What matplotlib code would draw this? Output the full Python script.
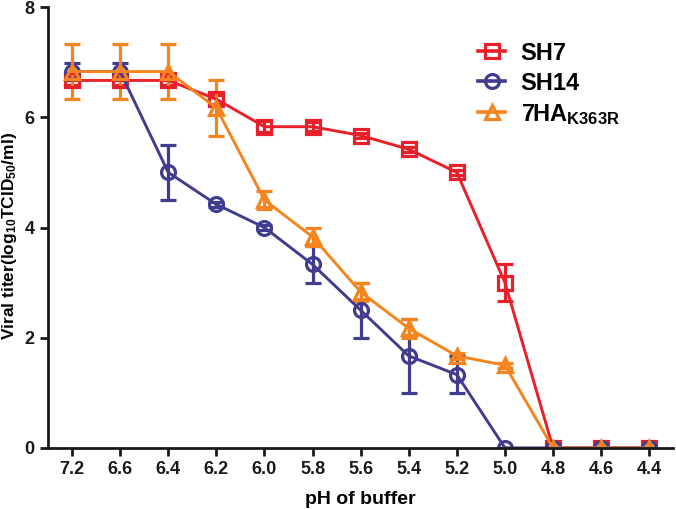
import numpy as np
import matplotlib.pyplot as plt
from matplotlib.lines import Line2D

plt.rcParams['font.family'] = ['Liberation Sans', 'DejaVu Sans']
plt.rcParams['font.weight'] = 'bold'
plt.rcParams['mathtext.fontset'] = 'custom'
plt.rcParams['mathtext.rm'] = 'Liberation Sans:bold'
plt.rcParams['mathtext.bf'] = 'Liberation Sans:bold'
plt.rcParams['mathtext.it'] = 'Liberation Sans:bold'

ph = ["7.2", "6.6", "6.4", "6.2", "6.0", "5.8", "5.6", "5.4", "5.2", "5.0", "4.8", "4.6", "4.4"]

sh7 = [6.67, 6.67, 6.67, 6.33, 5.83, 5.83, 5.67, 5.42, 5.0, 3.0, 0, 0, 0]
sh7_err = [0.08, 0.08, 0.08, 0.08, 0.1, 0.08, 0.05, 0.05, 0.05, 0.33, 0, 0, 0]

sh14 = [6.83, 6.83, 5.0, 4.42, 4.0, 3.33, 2.5, 1.67, 1.33, 0, 0, 0, 0]
sh14_err = [0.15, 0.15, 0.5, 0.05, 0.05, 0.33, 0.5, 0.67, 0.33, 0, 0, 0, 0]

ha = [6.83, 6.83, 6.83, 6.17, 4.5, 3.83, 2.83, 2.17, 1.67, 1.5, 0, 0, 0]
ha_err = [0.5, 0.5, 0.5, 0.5, 0.17, 0.17, 0.17, 0.17, 0.05, 0.05, 0, 0, 0]

x = np.arange(len(ph))

fig = plt.figure(figsize=(6.76, 5.09), dpi=100)
ax = fig.add_axes([0.071, 0.12, 0.925, 0.866])

series = [
    (sh7, sh7_err, "#E8202A", "s", "SH7"),
    (sh14, sh14_err, "#403C8E", "o", "SH14"),
    (ha, ha_err, "#F5841F", "^", r"7HA$_{\mathrm{K363R}}$"),
]
handles = []
for y, err, col, mk, lab in series:
    ax.errorbar(x, y, yerr=err, color=col, marker=mk, markersize=10,
                markerfacecolor="none", markeredgewidth=2.3, linewidth=2.1,
                capsize=5.5, capthick=2.3, elinewidth=2.3)
    handles.append(Line2D([], [], color=col, marker=mk, markersize=10,
                          markerfacecolor="none", markeredgewidth=2.3,
                          linewidth=2.6, label=lab))

ax.set_xlim(-0.5, 12.5)
ax.set_ylim(0, 8)
ax.set_xticks(x)
ax.set_xticklabels(ph)
ax.set_yticks([0, 2, 4, 6, 8])
ax.spines['top'].set_visible(False)
ax.spines['right'].set_visible(False)
for s in ['left', 'bottom']:
    ax.spines[s].set_linewidth(2)
    ax.spines[s].set_color("#1a1a1a")
ax.tick_params(width=2, length=6, labelsize=13, colors="#1a1a1a")
ax.set_xlabel("pH of buffer", fontsize=14, fontweight='bold', labelpad=9)
ax.set_ylabel(r"Viral titer(log$_{10}$TCID$_{50}$/ml)", fontsize=12.5, fontweight='bold')
ax.yaxis.set_label_coords(-0.046, 0.48)

ax.legend(handles=handles, loc="upper left", bbox_to_anchor=(0.688, 0.922),
          frameon=False, fontsize=17, handlelength=1.15, handletextpad=0.65,
          labelspacing=0.3, borderpad=0, borderaxespad=0)

fig.savefig("out.png", dpi=100)
